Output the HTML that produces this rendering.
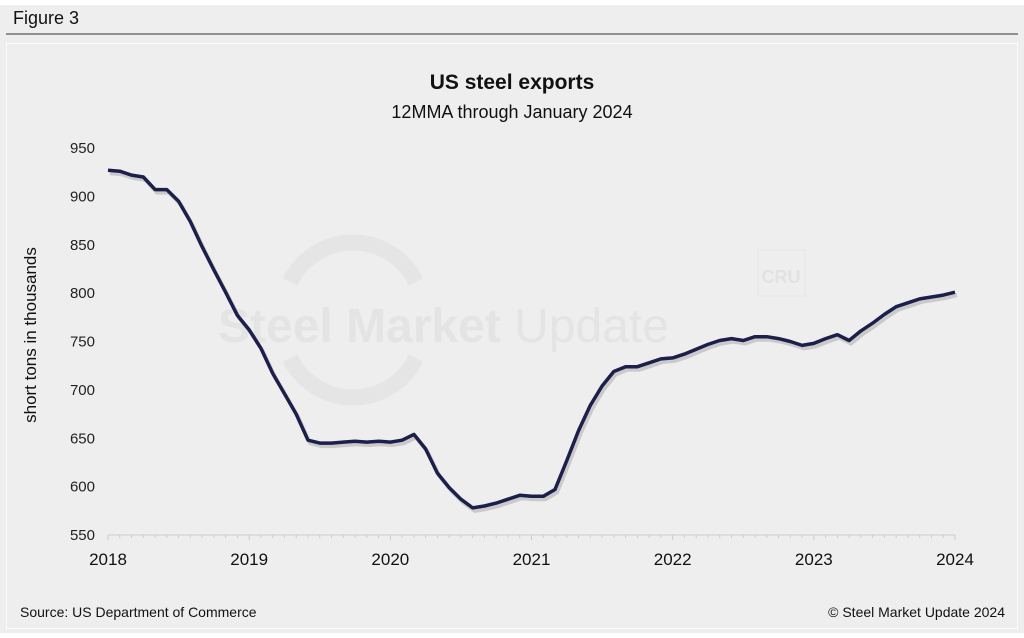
<!DOCTYPE html>
<html><head><meta charset="utf-8"><style>
body{margin:0;width:1024px;height:633px;background:#fff;overflow:hidden;font-family:"Liberation Sans",sans-serif}
</style></head><body>
<svg width="1024" height="633" xmlns="http://www.w3.org/2000/svg">
<rect x="0" y="5" width="1024" height="628" fill="#eeeeee"/>
<text x="13" y="24" font-size="18" fill="#111">Figure 3</text>
<line x1="6" y1="34" x2="1018" y2="34" stroke="#333" stroke-width="1"/>
<rect x="6.5" y="43.5" width="1011" height="585" fill="#eeeeee" stroke="#fafafa" stroke-width="1"/>
<g>
<path d="M290,282 A70,70 0 0 1 416,282 M416,358 A70,70 0 0 1 290,358" fill="none" stroke="#e5e5e5" stroke-width="16"/>
<text x="218" y="342" font-size="48" font-weight="bold" fill="#e4e4e4">Steel Market <tspan font-weight="normal">Update</tspan></text>
<rect x="758" y="250" width="47" height="46" fill="none" stroke="#e6e6e6" stroke-width="1"/>
<text x="781" y="283" font-size="18" font-weight="bold" fill="#e2e2e2" text-anchor="middle">CRU</text>
</g>
<text x="512" y="89" font-size="21" font-weight="bold" text-anchor="middle" fill="#111">US steel exports</text>
<text x="512" y="118" font-size="18" text-anchor="middle" fill="#111">12MMA through January 2024</text>
<text transform="translate(36,335) rotate(-90)" font-size="17" text-anchor="middle" fill="#111">short tons in thousands</text>
<g id="axes"></g>
<g id="series"></g>
<text x="20" y="617" font-size="14" fill="#111">Source: US Department of Commerce</text>
<text x="1005" y="617" font-size="14" fill="#111" text-anchor="end">© Steel Market Update 2024</text>
</svg>
<script>
const yTicks=[550,600,650,700,750,800,850,900,950];
const xTickLabels=["2018","2019","2020","2021","2022","2023","2024"];
const exports=[927,926,922,920,907,907,895,874,848,824,801,777,
762,743,717,696,675,648,645,645,646,647,646,647,
646,648,654,639,614,599,587,578,580,583,587,591,
590,590,597,627,658,684,704,719,724,724,728,732,
733,737,742,747,751,753,751,755,755,753,750,746,
748,753,757,751,761,769,778,786,790,794,796,798,
801];
const NS="http://www.w3.org/2000/svg";
const x0=108,x1=955,yb=535,yt=148;
function xs(i){return x0+(x1-x0)*i/72;}
function ys(v){return yb-(v-550)/400*(yb-yt);}
const ax=document.getElementById('axes');
function mk(t,a,p){const e=document.createElementNS(NS,t);for(const k in a)e.setAttribute(k,a[k]);p.appendChild(e);return e;}
yTicks.forEach(v=>{const t=mk('text',{x:95,y:ys(v)+5,'font-size':15,fill:'#222','text-anchor':'end'},ax);t.textContent=v;

});
const base=mk('line',{x1:x0,y1:yb,x2:x1,y2:yb,stroke:'#ccc','stroke-width':1},ax);


for(let i=0;i<=72;i++){const big=i%12===0;const l=mk('line',{x1:xs(i),x2:xs(i),y1:yb,y2:yb+(big?5:3),stroke:'#ccc','stroke-width':1},ax);

}
xTickLabels.forEach((s,k)=>{const t=mk('text',{x:xs(k*12),y:yb+30,'font-size':17,fill:'#111','text-anchor':'middle'},ax);t.textContent=s;

});
const d=exports.map((v,i)=>(i?'L':'M')+xs(i).toFixed(1)+','+ys(v).toFixed(1)).join('');
const sh=mk('path',{d:d,fill:'none',stroke:'#000','stroke-opacity':0.15,'stroke-width':4,transform:'translate(2,3)'},document.getElementById('series'));


const p=mk('path',{d:d,fill:'none',stroke:'#1b1f4a','stroke-width':3.5,'stroke-linejoin':'round'},document.getElementById('series'));


</script>
</body></html>
